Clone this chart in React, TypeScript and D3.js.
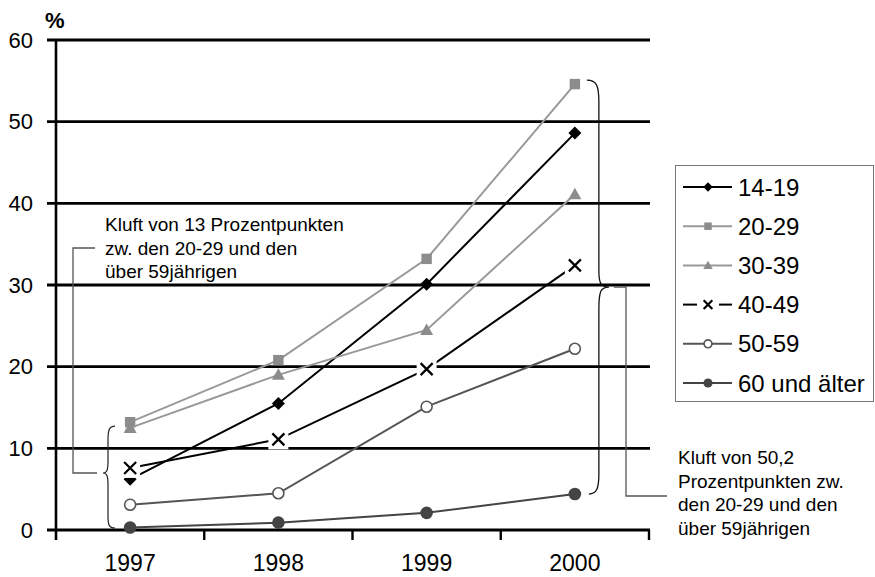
import React from "react";
import * as d3 from "d3";

const years = ["1997", "1998", "1999", "2000"];
const s1419 = [6.2, 15.5, 30.1, 48.6];
const s2029 = [13.2, 20.8, 33.2, 54.6];
const s3039 = [12.5, 19.0, 24.5, 41.1];
const s4049 = [7.6, 11.1, 19.7, 32.4];
const s5059 = [3.1, 4.5, 15.1, 22.2];
const s60 = [0.3, 0.9, 2.1, 4.4];
const seriesNames = ["14-19", "20-29", "30-39", "40-49", "50-59", "60 und älter"];
const yTicks = [0, 10, 20, 30, 40, 50, 60];
const noteLeft = ["Kluft von 13 Prozentpunkten", "zw. den 20-29 und den", "über 59jährigen"];
const noteRight = ["Kluft von 50,2", "Prozentpunkten zw.", "den 20-29 und den", "über 59jährigen"];
const unitLabel = "%";

const FONT = '"Liberation Sans", Arial, Helvetica, sans-serif';

type MarkerKind = "diamond" | "square" | "triangle" | "x" | "ocircle" | "fcircle";

const seriesStyle: { data: number[]; color: string; marker: MarkerKind; mfill: string }[] = [
  { data: s1419, color: "#000000", marker: "diamond", mfill: "#000000" },
  { data: s2029, color: "#999999", marker: "square", mfill: "#8c8c8c" },
  { data: s3039, color: "#999999", marker: "triangle", mfill: "#8c8c8c" },
  { data: s4049, color: "#000000", marker: "x", mfill: "#000000" },
  { data: s5059, color: "#555555", marker: "ocircle", mfill: "#555555" },
  { data: s60, color: "#444444", marker: "fcircle", mfill: "#444444" },
];

function Marker({ kind, cx, cy, k, fill }: { kind: MarkerKind; cx: number; cy: number; k: number; fill: string }) {
  const t = `translate(${cx},${cy}) scale(${k})`;
  switch (kind) {
    case "diamond":
      return <path transform={t} d="M0,-6.5L6.5,0L0,6.5L-6.5,0Z" fill={fill} />;
    case "square":
      return <rect transform={t} x={-5.2} y={-5.2} width={10.4} height={10.4} fill={fill} />;
    case "triangle":
      return <path transform={t} d="M0,-6.5L6.5,5L-6.5,5Z" fill={fill} />;
    case "x":
      return (
        <g transform={t}>
          {k === 1 && <rect x={-10} y={-10} width={20} height={20} fill="#fff" />}
          <path d="M-6,-6L6,6M6,-6L-6,6" stroke={fill} strokeWidth={2.2 / k} fill="none" />
        </g>
      );
    case "ocircle":
      return <circle transform={t} r={5.5} fill="#fff" stroke={fill} strokeWidth={1.6 / k} />;
    case "fcircle":
      return <circle transform={t} r={6.3} fill={fill} />;
  }
  return null;
}

export default function App() {
  const x = d3.scaleBand<string>().domain(years).range([56, 649]).paddingInner(0).paddingOuter(0);
  const cx = (yr: string) => (x(yr) as number) + x.bandwidth() / 2;
  const y = d3.scaleLinear().domain([0, 60]).range([530, 40]);
  const line = d3
    .line<number>()
    .x((_, i) => cx(years[i]))
    .y((d) => y(d));

  // Right brace (gap 2000 between 20-29 and 60+)
  const rbTop = y(s2029[3]) - 4;
  const rbBot = y(s60[3]);
  const rbMid = (rbTop + rbBot) / 2;
  const rbX0 = cx("2000") + 12;
  const rbSp = rbX0 + 12;
  const rbTip = rbSp + 10;
  const rightBrace = `M${rbX0},${rbTop} C${rbSp - 2},${rbTop} ${rbSp},${rbTop + 6} ${rbSp},${rbTop + 22} L${rbSp},${rbMid - 16} C${rbSp},${rbMid - 4} ${rbSp + 2},${rbMid} ${rbTip},${rbMid} C${rbSp + 2},${rbMid} ${rbSp},${rbMid + 4} ${rbSp},${rbMid + 22} L${rbSp},${rbBot - 20} C${rbSp},${rbBot - 6} ${rbSp - 2},${rbBot} ${rbX0 + 2},${rbBot}`;

  // Left brace (gap 1997)
  const lbTop = y(s2029[0]) + 4;
  const lbBot = y(0) - 2;
  const lbMid = 473;
  const lbX0 = 115;
  const lbSp = 108;
  const lbTip = 103;
  const leftBrace = `M${lbX0},${lbTop} C${lbSp + 1},${lbTop} ${lbSp},${lbTop + 4} ${lbSp},${lbTop + 14} L${lbSp},${lbMid - 12} C${lbSp},${lbMid - 3} ${lbSp - 1},${lbMid} ${lbTip},${lbMid} C${lbSp - 1},${lbMid} ${lbSp},${lbMid + 3} ${lbSp},${lbMid + 12} L${lbSp},${lbBot - 12} C${lbSp},${lbBot - 3} ${lbSp + 1},${lbBot} ${lbX0},${lbBot}`;

  const legendY0 = 187;
  const legendStep = 39.2;

  return (
    <svg
      width={875}
      height={577}
      style={{ position: "absolute", left: 0, top: 0, background: "#fff" }}
      fontFamily={FONT}
    >
      <rect x={0} y={0} width={875} height={577} fill="#fff" />
      {/* gridlines */}
      {yTicks.map((t) => (
        <line key={t} x1={47} x2={650} y1={y(t)} y2={y(t)} stroke="#000" strokeWidth={2.8} />
      ))}
      {/* y axis */}
      <line x1={56} x2={56} y1={y(60)} y2={y(0) + 10} stroke="#000" strokeWidth={2.6} />
      {/* x ticks */}
      {years.map((yr) => (
        <line key={yr} x1={(x(yr) as number) + x.bandwidth()} x2={(x(yr) as number) + x.bandwidth()} y1={y(0)} y2={y(0) + 10} stroke="#000" strokeWidth={2.4} />
      ))}
      {/* y tick labels */}
      {yTicks.map((t) => (
        <text key={t} x={33} y={y(t) + 7.8} textAnchor="end" fontSize={22} fill="#000">
          {t}
        </text>
      ))}
      <text x={45} y={28} fontSize={22} fontWeight="bold" fill="#000">
        {unitLabel}
      </text>
      {/* x labels */}
      {years.map((yr) => (
        <text key={yr} x={cx(yr)} y={571} textAnchor="middle" fontSize={23} fill="#000">
          {yr}
        </text>
      ))}

      {/* left annotation connector */}
      <path d={`M95,248 L73,248 L73,${lbMid} L97,${lbMid}`} fill="none" stroke="#555" strokeWidth={1.3} />
      <path d={leftBrace} fill="none" stroke="#222" strokeWidth={1.2} />
      {noteLeft.map((s, i) => (
        <text key={i} x={105} y={231 + i * 23.5} fontSize={19} fill="#000">
          {s}
        </text>
      ))}

      {/* series */}
      {seriesStyle.map((s, si) => (
        <g key={si}>
          <path d={line(s.data) as string} fill="none" stroke={s.color} strokeWidth={2} />
          {s.data.map((v, i) => (
            <Marker key={i} kind={s.marker} cx={cx(years[i])} cy={y(v)} k={1} fill={s.mfill} />
          ))}
        </g>
      ))}

      {/* right brace & connector */}
      <path d={rightBrace} fill="none" stroke="#111" strokeWidth={1.3} />
      <path d={`M${rbTip + 5},${rbMid} L626,${rbMid} L626,496 L667,496`} fill="none" stroke="#555" strokeWidth={1.3} />
      {noteRight.map((s, i) => (
        <text key={i} x={678} y={464 + i * 23.5} fontSize={19} fill="#000">
          {s}
        </text>
      ))}

      {/* legend */}
      <rect x={675.5} y={165.5} width={198} height={236} fill="#fff" stroke="#777" strokeWidth={1} />
      {seriesStyle.map((s, i) => {
        const ly = legendY0 + i * legendStep;
        return (
          <g key={i}>
            {s.marker === "x" ? (
              <>
                <line x1={683} x2={697} y1={ly} y2={ly} stroke={s.color} strokeWidth={2} />
                <line x1={719} x2={732} y1={ly} y2={ly} stroke={s.color} strokeWidth={2} />
              </>
            ) : (
              <line x1={683} x2={732} y1={ly} y2={ly} stroke={s.color} strokeWidth={2} />
            )}
            <Marker kind={s.marker} cx={708} cy={ly} k={0.72} fill={s.mfill} />
            <text x={738} y={ly + 8.6} fontSize={24} fill="#000">
              {seriesNames[i]}
            </text>
          </g>
        );
      })}
    </svg>
  );
}
